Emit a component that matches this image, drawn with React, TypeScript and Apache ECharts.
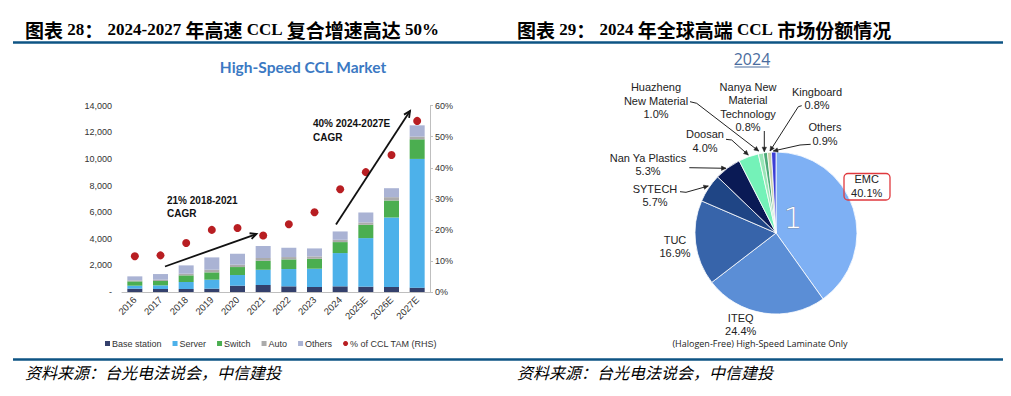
import React, { useEffect, useRef } from "react";
import * as echarts from "echarts";

// ---------- Left chart data ----------
const categories = ["2016", "2017", "2018", "2019", "2020", "2021", "2022", "2023", "2024", "2025E", "2026E", "2027E"];
const baseStation = [250, 225, 225, 250, 475, 525, 425, 375, 425, 400, 375, 325];
const server = [225, 275, 525, 675, 800, 1150, 1300, 1375, 2500, 3650, 5225, 9675];
const switchVals = [325, 325, 500, 550, 600, 675, 725, 750, 825, 1000, 1275, 1475];
const auto = [75, 100, 125, 200, 175, 200, 175, 175, 175, 175, 250, 200];
const others = [300, 425, 625, 925, 825, 900, 700, 600, 625, 750, 675, 850];
const tamShare = [11.5, 11.8, 15.8, 20.0, 20.6, 18.2, 21.8, 25.7, 33.1, 38.6, 44.1, 55.1];
const leftTicks = { min: 0, max: 14000, interval: 2000 };
const rightTicks = { min: 0, max: 60, interval: 10 };

// ---------- Right chart data ----------
const pieNames = [
  "EMC",
  "ITEQ",
  "TUC",
  "SYTECH",
  "Nan Ya Plastics",
  "Doosan",
  "Huazheng\nNew Material",
  "Nanya New\nMaterial\nTechnology",
  "Kingboard",
  "Others",
];
const pieValues = [40.1, 24.4, 16.9, 5.7, 5.3, 4.0, 1.0, 0.8, 0.8, 0.9];

// ---------- styles / layout ----------
const barColors = ["#34406c", "#4db1ea", "#4bae50", "#ababab", "#aab3d4"];
const dotColor = "#b81e22";
const pieColors = ["#7eb0f4", "#5b8ed6", "#3764aa", "#1f4585", "#0a1a55", "#74f2b8", "#9ae6b8", "#4caa78", "#c9d2a8", "#3b3fd6"];
const pieLabelPos: [number, number][] = [
  [866.7, 186],
  [740.7, 324.5],
  [675, 246.5],
  [655, 195.5],
  [648, 164.5],
  [705, 141],
  [656, 100.5],
  [748, 107],
  [817, 98.5],
  [825, 134],
];

function arrow(pts: number[][], head: "open" | "filled", color: string, lw: number, hl: number) {
  const els: any[] = [
    { type: "polyline", z: 100, shape: { points: pts }, style: { stroke: color, lineWidth: lw, fill: "none" } },
  ];
  const [x2, y2] = pts[pts.length - 1];
  const [x1, y1] = pts[pts.length - 2];
  const ang = Math.atan2(y2 - y1, x2 - x1);
  const a1 = ang + Math.PI - 0.45;
  const a2 = ang + Math.PI + 0.45;
  const p1 = [x2 + hl * Math.cos(a1), y2 + hl * Math.sin(a1)];
  const p2 = [x2 + hl * Math.cos(a2), y2 + hl * Math.sin(a2)];
  if (head === "open") {
    els.push({ type: "polyline", z: 100, shape: { points: [p1, [x2, y2], p2] }, style: { stroke: color, lineWidth: lw, fill: "none" } });
  } else {
    els.push({ type: "polygon", z: 100, shape: { points: [p1, [x2, y2], p2] }, style: { fill: color, stroke: color, lineWidth: 0.5 } });
  }
  return els;
}

const headerFont = "'Liberation Serif', 'Times New Roman', 'Noto Sans CJK SC', serif";
const cjkFont = "'Noto Sans CJK SC', sans-serif";
const sansFont = "'Liberation Sans', Arial, 'Noto Sans', sans-serif";

// header built from rich-text segments: c = CJK, l = latin
function headerText(parts: [string, string][]) {
  return parts.map(([k, t]) => `{${k}|${t}}`).join("");
}
const headerRich = {
  c: { fontSize: 19, fontWeight: "bold", fontFamily: cjkFont, fill: "#000" },
  l: { fontSize: 17, fontWeight: "bold", fontFamily: headerFont, fill: "#000" },
};

export default function App() {
  const ref = useRef<HTMLDivElement>(null);

  useEffect(() => {
    if (!ref.current) return;
    const chart = echarts.init(ref.current, undefined, { renderer: "svg" });

    const barSeriesDefs = [
      { name: "Base station", data: baseStation },
      { name: "Server", data: server },
      { name: "Switch", data: switchVals },
      { name: "Auto", data: auto },
      { name: "Others", data: others },
    ];

    const graphics: any[] = [
      // header lines
      { type: "line", z: 100, shape: { x1: 13, y1: 42.5, x2: 1003, y2: 42.5 }, style: { stroke: "#0e5484", lineWidth: 2.5 } },
      { type: "line", z: 100, shape: { x1: 13, y1: 359.5, x2: 1003, y2: 359.5 }, style: { stroke: "#0e5484", lineWidth: 2.5 } },
      {
        type: "text", z: 100, x: 25, y: 29,
        style: {
          text: headerText([["c", "图表"], ["l", " 28"], ["c", "："], ["l", " 2024-2027 "], ["c", "年高速"], ["l", " CCL "], ["c", "复合增速高达"], ["l", " 50%"]]),
          rich: headerRich,
          verticalAlign: "middle",
        },
      },
      {
        type: "text", z: 100, x: 517, y: 29,
        style: {
          text: headerText([["c", "图表"], ["l", " 29"], ["c", "："], ["l", " 2024 "], ["c", "年全球高端"], ["l", " CCL "], ["c", "市场份额情况"]]),
          rich: headerRich,
          verticalAlign: "middle",
        },
      },
      {
        type: "text", z: 100, x: 25, y: 372,
        style: { text: "资料来源：台光电法说会，中信建投", fontSize: 16, fontStyle: "italic", fontFamily: cjkFont, fill: "#000", verticalAlign: "middle" },
      },
      {
        type: "text", z: 100, x: 517, y: 372,
        style: { text: "资料来源：台光电法说会，中信建投", fontSize: 16, fontStyle: "italic", fontFamily: cjkFont, fill: "#000", verticalAlign: "middle" },
      },
      // left title
      {
        type: "text", z: 100, x: 303, y: 67,
        style: { text: "High-Speed CCL Market", fontSize: 15.5, fontWeight: "bold", fontFamily: "Lato, 'Open Sans', sans-serif", fill: "#3b79c3", align: "center", verticalAlign: "middle" },
      },
      // annotations
      {
        type: "text", z: 100, x: 167, y: 207,
        style: { text: "21% 2018-2021\nCAGR", fontSize: 10, lineHeight: 13.5, fontWeight: "bold", fontFamily: sansFont, fill: "#111", verticalAlign: "middle" },
      },
      {
        type: "text", z: 100, x: 313, y: 130.5,
        style: { text: "40% 2024-2027E\nCAGR", fontSize: 10, lineHeight: 14, fontWeight: "bold", fontFamily: sansFont, fill: "#111", verticalAlign: "middle" },
      },
      ...arrow([[165, 266.5], [256.5, 234]], "open", "#111", 1.8, 7),
      ...arrow([[336, 224.5], [410, 111]], "open", "#111", 1.8, 7),
      // right title
      {
        type: "text", z: 100, x: 752, y: 59,
        style: { text: "2024", fontSize: 16, fontFamily: "'Open Sans', 'Noto Sans', sans-serif", fill: "#4a6c9e", align: "center", verticalAlign: "middle" },
      },
      { type: "line", z: 100, shape: { x1: 734.5, y1: 67, x2: 769.5, y2: 67 }, style: { stroke: "#4a6c9e", lineWidth: 1 } },
      // big "1" on EMC slice
      {
        type: "text", z: 100, x: 793, y: 218,
        style: { text: "1", fontSize: 29, fontWeight: "lighter", fontFamily: "'DejaVu Sans', sans-serif", fill: "#ffffff", stroke: "#8193b6", lineWidth: 0.8, align: "center", verticalAlign: "middle" },
      },
      // EMC box
      { type: "rect", z: 100, shape: { x: 844, y: 173.5, width: 46, height: 26.5, r: 4 }, style: { fill: "none", stroke: "#e0393e", lineWidth: 1.3 } },
      // pie leader arrows
      ...arrow([[690, 101.7], [696.7, 103.3], [758.7, 151]], "filled", "#222", 1, 5),
      ...arrow([[764.3, 131], [764.3, 151.7]], "filled", "#222", 1, 5),
      ...arrow([[801.7, 105.7], [798.3, 106.7], [770, 151]], "filled", "#222", 1, 5),
      ...arrow([[810.7, 144.3], [800, 145], [773.3, 151]], "filled", "#222", 1, 5),
      ...arrow([[726, 139.3], [731.7, 140], [748.3, 155]], "filled", "#222", 1, 5),
      ...arrow([[689.3, 167.7], [726, 168.3]], "filled", "#222", 1, 5),
      ...arrow([[680, 191.7], [686, 192.3], [708.3, 186]], "filled", "#222", 1, 5),
      // caption
      {
        type: "text", z: 100, x: 760, y: 343.5,
        style: { text: "(Halogen-Free) High-Speed Laminate Only", fontSize: 9, fontFamily: "'Open Sans', 'Noto Sans', sans-serif", fill: "#222", align: "center", verticalAlign: "middle" },
      },
    ];

    const option: any = {
      animation: false,
      backgroundColor: "#ffffff",
      textStyle: { fontFamily: sansFont },
      legend: {
        left: 100,
        top: 334,
        itemWidth: 5,
        itemHeight: 5,
        itemGap: 11,
        textStyle: { fontSize: 9, color: "#333", padding: [0, 0, 0, -3] },
        data: [
          ...barSeriesDefs.map((s) => ({ name: s.name, icon: "rect" })),
          { name: "% of CCL TAM (RHS)", icon: "circle" },
        ],
      },
      grid: { left: 122, right: 581, top: 105.7, bottom: 104, containLabel: false },
      xAxis: {
        type: "category",
        data: categories,
        axisLine: { lineStyle: { color: "#bfbfbf", width: 1 } },
        axisTick: { show: false },
        axisLabel: { rotate: 45, fontSize: 9.5, color: "#333", margin: 6 },
      },
      yAxis: [
        {
          type: "value",
          min: leftTicks.min,
          max: leftTicks.max,
          interval: leftTicks.interval,
          splitLine: { show: false },
          axisLine: { show: false },
          axisTick: { show: false },
          axisLabel: {
            fontSize: 9,
            color: "#333",
            margin: 10,
            formatter: (v: number) => (v === 0 ? "-" : v.toLocaleString("en-US")),
          },
        },
        {
          type: "value",
          position: "right",
          min: rightTicks.min,
          max: rightTicks.max,
          interval: rightTicks.interval,
          splitLine: { show: false },
          axisLine: { show: true, lineStyle: { color: "#bfbfbf" } },
          axisTick: { show: true, length: 3, lineStyle: { color: "#bfbfbf" } },
          axisLabel: { fontSize: 9, color: "#333", margin: 5, formatter: "{value}%" },
        },
      ],
      series: [
        ...barSeriesDefs.map((s, i) => ({
          name: s.name,
          type: "bar",
          stack: "total",
          barWidth: 15,
          data: s.data,
          itemStyle: { color: barColors[i] },
        })),
        {
          name: "% of CCL TAM (RHS)",
          type: "scatter",
          yAxisIndex: 1,
          data: tamShare,
          symbolSize: 8,
          itemStyle: { color: dotColor, opacity: 1 },
          z: 5,
        },
        {
          name: "share2024",
          type: "pie",
          center: [776, 233],
          radius: 81,
          startAngle: 90,
          clockwise: true,
          avoidLabelOverlap: false,
          data: pieNames.map((n, i) => ({ name: n, value: pieValues[i], itemStyle: { color: pieColors[i] } })),
          itemStyle: { borderColor: "#ffffff", borderWidth: 0.8 },
          label: {
            show: true,
            position: "outside",
            formatter: (p: any) => `${p.name}\n${Number(p.value).toFixed(1)}%`,
            fontSize: 11,
            lineHeight: 13.5,
            color: "#222",
            align: "center",
            fontFamily: sansFont,
          },
          labelLine: { show: false },
          labelLayout: (params: any) => {
            const pos = pieLabelPos[params.dataIndex];
            return { x: pos[0], y: pos[1], align: "center", verticalAlign: "middle" };
          },
          emphasis: { disabled: true },
        },
      ],
      graphic: graphics,
    };

    chart.setOption(option);
    return () => chart.dispose();
  }, []);

  return (
    <div
      ref={ref}
      style={{ position: "absolute", left: 0, top: 0, width: 1011, height: 396, background: "#fff" }}
    />
  );
}
